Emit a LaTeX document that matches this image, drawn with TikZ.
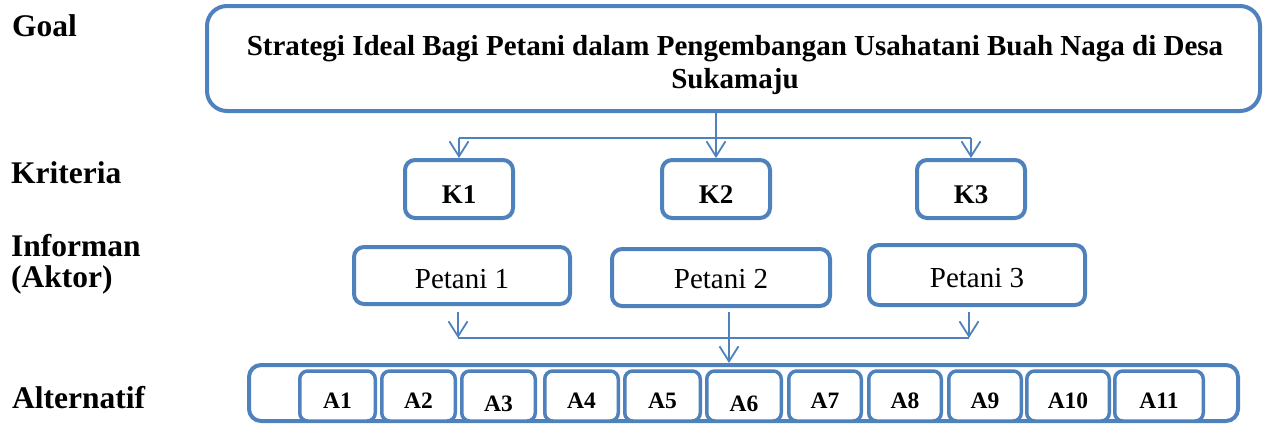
\documentclass[tikz,border=0pt]{standalone}
\usepackage{fontspec}
\setmainfont{Liberation Serif}
\usetikzlibrary{arrows.meta}
\definecolor{boxblue}{HTML}{4F81BD}
\begin{document}
\begin{tikzpicture}[x=1pt,y=-1pt,
  box/.style={draw=boxblue, line width=4pt, rounded corners=10pt, fill=white, inner sep=0pt, align=center},
  kbox/.style={box, minimum width=108pt, minimum height=58pt, text height=28pt, text depth=0pt, font=\fontsize{27}{32}\selectfont\bfseries},
  pbox/.style={box, minimum height=57pt, text height=25pt, text depth=0pt, font=\fontsize{29}{32}\selectfont},
  abox/.style={box, line width=3.5pt, rounded corners=8pt, minimum height=50pt, text height=24pt, text depth=0pt, font=\fontsize{23.5}{26}\selectfont\bfseries},
  alow/.style={text height=30pt},
  lab/.style={anchor=base west, inner sep=0pt, font=\fontsize{31.5}{34}\selectfont\bfseries},
  conn/.style={draw=boxblue, line width=1.8pt},
  arr/.style={conn, -{Straight Barb[length=15pt,width=19pt]}}
]
\useasboundingbox (0,0) rectangle (1264,424);

% left labels
\node[lab] (lgoal) at (12,36) {Goal};
\node[lab] (lkrit) at (11,183) {Kriteria};
\node[lab] (linf) at (11,256) {Informan};
\node[lab] (lakt) at (11,287) {(Aktor)};
\node[lab] (lalt) at (12,408) {Alternatif};

% goal
\node[box, rounded corners=20pt, minimum width=1053pt, minimum height=105pt] (goal) at (733.5,58.5) {};
\node[inner sep=0pt, align=center, font=\fontsize{29}{33}\selectfont\bfseries] (goaltext) at (735,65)
  {Strategi Ideal Bagi Petani dalam Pengembangan Usahatani Buah Naga di Desa\\Sukamaju};

% criteria
\node[kbox] (k1) at (459,189) {K1};
\node[kbox] (k2) at (716,189) {K2};
\node[kbox] (k3) at (971,189) {K3};

% informants
\node[pbox, minimum width=216pt] (p1) at (462,275.5) {Petani 1};
\node[pbox, minimum width=218pt, text height=21pt] (p2) at (721,277.5) {Petani 2};
\node[pbox, minimum width=216pt, minimum height=60pt, text height=24pt] (p3) at (977,275) {Petani 3};

% alternatives
\node[box, rounded corners=12pt, minimum width=989pt, minimum height=56pt] (alt) at (743.5,393) {};
\node[abox, minimum width=75.5pt] (a1) at (337.5,396) {A1};
\node[abox, minimum width=73.5pt] (a2) at (418.5,396) {A2};
\node[abox, alow, minimum width=73.5pt] (a3) at (498.5,396) {A3};
\node[abox, minimum width=73.5pt] (a4) at (581.5,396) {A4};
\node[abox, minimum width=75.5pt] (a5) at (662.5,396) {A5};
\node[abox, alow, minimum width=74.5pt] (a6) at (744,396) {A6};
\node[abox, minimum width=72.5pt] (a7) at (825,396) {A7};
\node[abox, minimum width=72.5pt] (a8) at (905,396) {A8};
\node[abox, minimum width=72.5pt] (a9) at (985,396) {A9};
\node[abox, minimum width=82.5pt] (a10) at (1068,396) {A10};
\node[abox, minimum width=88.5pt] (a11) at (1159,396) {A11};

% goal -> criteria
\coordinate (gl) at (459,138);
\coordinate (gr) at (971,138);
\draw[conn] (gl) -- (gr);
\draw[arr] (goal.south -| k2) -- (k2.north);
\draw[arr] (gl) -- (k1.north);
\draw[arr] (gr) -- (k3.north);

% informants -> alternatives
\coordinate (bl) at (458,338);
\coordinate (br) at (969,338);
\draw[conn] (bl) -- (br);
\draw[arr] (458,312) -- (bl);
\draw[arr] (969,312) -- (br);
\draw[arr] (729,312) -- (alt.north -| 729,0);
\end{tikzpicture}
\end{document}
